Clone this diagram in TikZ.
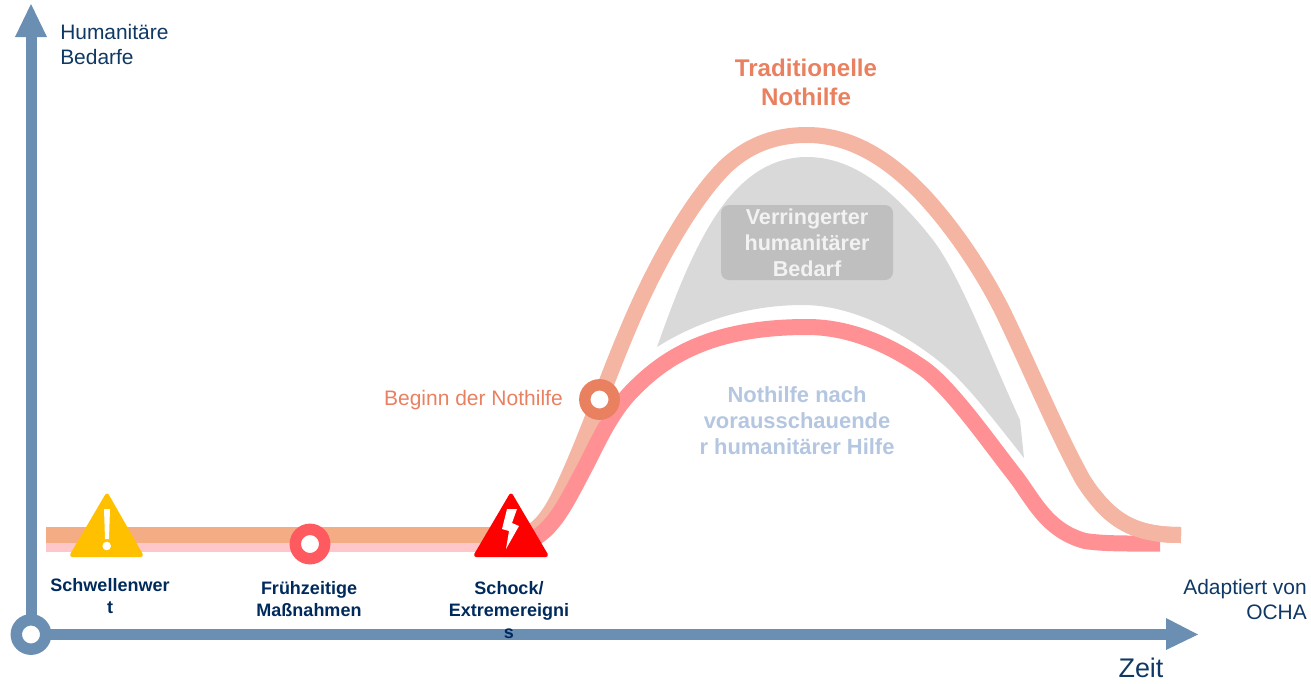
\documentclass[tikz,border=0pt]{standalone}
\usepackage{fontspec}
\setmainfont{Liberation Sans}
\definecolor{axisblue}{HTML}{6B8EB3}
\definecolor{tradline}{HTML}{F4B5A3}
\definecolor{antline}{HTML}{FF9094}
\definecolor{bandorange}{HTML}{F4AC85}
\definecolor{bandpink}{HTML}{FFC7C9}
\definecolor{ringorange}{HTML}{E98060}
\definecolor{ringred}{HTML}{FF5A5F}
\definecolor{navy}{HTML}{002A5C}
\definecolor{darktext}{HTML}{0F3864}
\definecolor{palegrey}{HTML}{D9D9D9}
\definecolor{boxgrey}{HTML}{BFBFBF}
\definecolor{paleblue}{HTML}{B4C6E0}
\definecolor{warnyellow}{HTML}{FFC000}
\newcommand{\tradcurve}{(522,536) .. controls (545,530) and (558,500) .. (570,473) .. controls (590,428) and (612,365) .. (635,313) .. controls (658,261) and (692,200) .. (725,167) .. controls (746,147) and (772,135) .. (807,135) .. controls (850,135) and (888,158) .. (923,195) .. controls (950,224) and (980,266) .. (1003,312) .. controls (1030,368) and (1058,435) .. (1083,480) .. controls (1110,522) and (1135,535) .. (1181,535)}
\newcommand{\antcurve}{(522,543) .. controls (550,537) and (565,505) .. (582,473) .. controls (597,445) and (610,412) .. (635,388) .. controls (665,358) and (710,327) .. (807,327) .. controls (850,327) and (890,345) .. (923,368) .. controls (950,387) and (985,437) .. (1013,473) .. controls (1033,498) and (1045,530) .. (1085,541) .. controls (1105,544) and (1130,543.5) .. (1160,543.5)}
\tikzset{
  x=0.75pt,y=-0.75pt,
  curveline/.style={line width=12pt,line join=round},
  axisline/.style={draw=axisblue,line width=8.25pt},
  axishead/.style={fill=axisblue,draw=none},
  ring/.style={circle,inner sep=0pt,minimum size=22pt,line width=8.6pt,fill=white},
  warnsign/.style={line width=3pt,line join=round},
  plainlabel/.style={text=darktext,font=\fontsize{15.7}{18.75}\selectfont,inner sep=0pt},
  boldlabel/.style={text=navy,font=\bfseries\fontsize{13.5}{16.5}\selectfont,align=center,inner sep=0pt},
  biglabel/.style={font=\bfseries\fontsize{16.2}{19.5}\selectfont,align=center,inner sep=0pt}
}
\begin{document}
\begin{tikzpicture}
\useasboundingbox (0,0) rectangle (1311,683);
% bands
\fill[bandpink] (46,536) rectangle (530,552);
\fill[bandorange] (46,527) rectangle (530,543);
% grey area
\fill[palegrey] (657,347) .. controls (672,305) and (695,240) .. (727,200) .. controls (745,178) and (770,157) .. (807,157) .. controls (850,157) and (890,185) .. (933,240) .. controls (960,275) and (990,355) .. (1020,420) -- (1024,458) .. controls (990,415) and (965,382) .. (940,362) .. controls (900,330) and (850,305) .. (803,305) .. controls (750,305) and (700,320) .. (657,347) -- cycle;
\node[fill=boxgrey,rounded corners=6pt,minimum width=129pt,minimum height=56.25pt,inner sep=0pt] (boxreduced) at (807,242.5) {};
\node[biglabel,text=white!95!black] (reduced) at (807,243) {Verringerter\\humanitärer\\Bedarf};
% curves
\draw[tradline,curveline] \tradcurve;
\draw[antline,curveline] \antcurve;
\begin{scope}
\clip (1095,490) rectangle (1200,560);
\draw[tradline,curveline] \tradcurve;
\end{scope}
% axes
\coordinate (origin) at (31,634.5);
\coordinate (ytip) at (31,30);
\coordinate (xtip) at (1170,634.5);
\draw[axisline] (origin) -- (ytip);
\draw[axisline] (origin) -- (xtip);
\fill[axishead] (31,4) -- (47,37) -- (15,37) -- cycle;
\fill[axishead] (1198,634.5) -- (1166,618) -- (1166,650) -- cycle;
\node[ring,draw=axisblue] (originring) at (origin) {};
% rings
\node[ring,draw=ringred] (early) at (310,544) {};
\node[ring,draw=ringorange] (start) at (599.5,399.5) {};
% warning triangles
\fill[warnyellow,draw=warnyellow,warnsign] (107,495.5) -- (141,555) -- (72,555) -- cycle;
\fill[white] (104,509) -- (110,509) -- (109,539) -- (105,539) -- cycle;
\fill[white] (106.7,546) circle[radius=4.3];
\fill[red,draw=red,warnsign] (511,495.5) -- (546,555) -- (476,555) -- cycle;
\fill[white] (507,509) -- (517,509) -- (512,523) -- (519,526) -- (506,549) -- (509,531) -- (502,529) -- cycle;
% labels
\node[plainlabel,align=left,anchor=west] (yaxis) at (60,44.5) {Humanitäre\\Bedarfe};
\node[biglabel,text=ringorange,font=\bfseries\fontsize{18.1}{21.75}\selectfont] (trad) at (806,82) {Traditionelle\\Nothilfe};
\node[biglabel,text=paleblue,font=\bfseries\fontsize{16.45}{19.5}\selectfont] (after) at (797,421) {Nothilfe nach\\vorausschauende\\r humanitärer Hilfe};
\node[plainlabel,text=ringorange,font=\fontsize{15.75}{19}\selectfont,anchor=east] (startlabel) at (563,400) {Beginn der Nothilfe};
\node[boldlabel] (threshold) at (110,596) {Schwellenwer\\t};
\node[boldlabel] (earlylabel) at (309,599) {Frühzeitige\\Maßnahmen};
\node[boldlabel] (shock) at (509,610.5) {Schock/\\Extremereigni\\s};
\node[plainlabel,align=right,anchor=east] (source) at (1307,599.5) {Adaptiert von\\OCHA};
\node[plainlabel,font=\fontsize{20.2}{24}\selectfont] (time) at (1141,668) {Zeit};
\end{tikzpicture}
\end{document}
